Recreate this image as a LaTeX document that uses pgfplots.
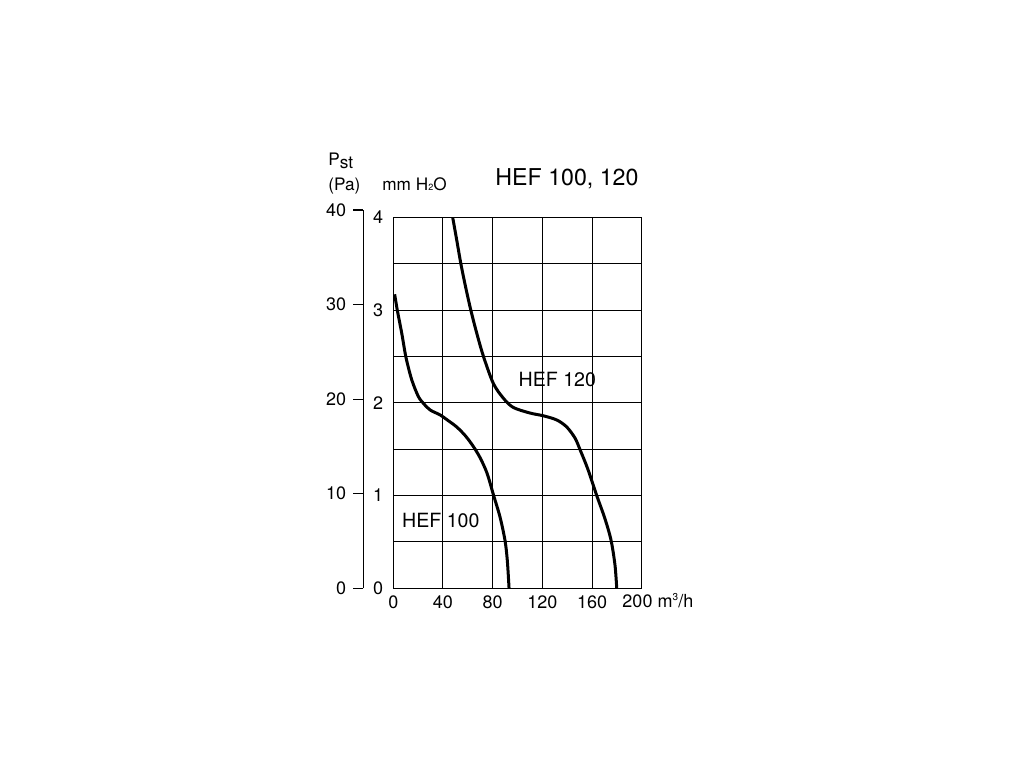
\documentclass[border=0pt]{standalone}
\usepackage{fontspec}
\setmainfont{TeX Gyre Heros}
\usepackage{pgfplots}
\pgfplotsset{compat=1.18}
\begin{document}
\begin{tikzpicture}
\path[use as bounding box] (0,0) rectangle (512pt,384pt);
% Pa scale
\begin{axis}[
  at={(181.65pt,89.85pt)}, anchor=south west,
  scale only axis, width=10pt, height=189.16pt,
  xmin=0, xmax=1, ymin=0, ymax=40,
  axis x line=none, axis y line*=left,
  ytick={0,10,20,30,40}, ytick pos=left,
  tick align=outside, major tick length=5pt,
  axis line style={black, line width=0.55pt},
  every tick/.style={black, line width=0.55pt},
  tick label style={font=\fontsize{9}{10}\selectfont},
  /pgf/number format/assume math mode=true,
]
\end{axis}
% main axis
\begin{axis}[
  at={(196.65pt,89.85pt)}, anchor=south west,
  scale only axis, width=124.2pt, height=185.5pt,
  xmin=0, xmax=200, ymin=0, ymax=4,
  xtick={0,40,80,120,160,200}, xticklabels={0,40,80,120,160,{}},
  ytick={0,1,2,3,4},
  minor ytick={0.5,1.5,2.5,3.5},
  grid=both,
  major grid style={black, line width=0.5pt},
  minor grid style={black, line width=0.5pt},
  axis line style={black, line width=0.55pt},
  major tick length=0pt, minor tick length=0pt,
  tick label style={font=\fontsize{9}{10}\selectfont},
  yticklabel style={xshift=-1.5pt},
  /pgf/number format/assume math mode=true,
  clip=true,
]
\addplot[black, line width=1.5pt, smooth, tension=0.5] coordinates {
(1.1,3.17) (3.2,3.0) (6.8,2.75) (10.2,2.49) (14.8,2.25) (20.1,2.07) (24.5,1.99) (30,1.92) (37.6,1.87) (44,1.81) (51,1.74) (58,1.645) (64.4,1.53) (70,1.405) (75.5,1.24) (80.8,1.0) (85.9,0.77) (89.9,0.52) (91.8,0.30) (93.2,0)
};
\addplot[black, line width=1.5pt, smooth, tension=0.5] coordinates {
(47.8,4.0) (51.0,3.76) (54.4,3.5) (58.2,3.25) (62.4,3.0) (67.2,2.75) (72.6,2.5) (80.5,2.21) (88.6,2.05) (96.6,1.95) (110,1.89) (120.8,1.86) (131.6,1.815) (139.6,1.74) (146.3,1.62) (150.5,1.49) (156.5,1.29) (163.8,1.0) (170.3,0.755) (175.3,0.52) (178.5,0.25) (179.9,0)
};
\node[anchor=base west, inner sep=0, font=\fontsize{9.8}{12}\selectfont] at (axis cs:100.6,2.174) {HEF 120};
\node[anchor=base west, inner sep=0, font=\fontsize{9.8}{12}\selectfont] at (axis cs:6.8,0.658) {HEF 100};
\coordinate (c200) at (axis cs:200,0);
\end{axis}
\node[anchor=north, font=\fontsize{9}{10}\selectfont, inner sep=3pt, xshift=-2.1pt] (n200) at (c200) {200};
\node[anchor=base west, inner sep=0, font=\fontsize{9}{10}\selectfont, xshift=-0.8pt] at (n200.base east) {m{\fontsize{5}{5}\selectfont\raisebox{3.3pt}{3}}/h};
\node[anchor=base west, inner sep=0, font=\fontsize{11.6}{14}\selectfont] at (247.5pt,291.5pt) {HEF 100, 120};
\node[anchor=base west, inner sep=0, font=\fontsize{8.6}{10}\selectfont] at (164pt,301.15pt) {P\raisebox{-1.6pt}{st}};
\node[anchor=base west, inner sep=0, font=\fontsize{8.6}{10}\selectfont] at (164pt,289pt) {(Pa)};
\node[anchor=base west, inner sep=0, font=\fontsize{8.6}{10}\selectfont] at (191pt,289pt) {mm H{\fontsize{4.5}{5}\selectfont\raisebox{-0.2pt}{2}}O};
\end{tikzpicture}
\end{document}
